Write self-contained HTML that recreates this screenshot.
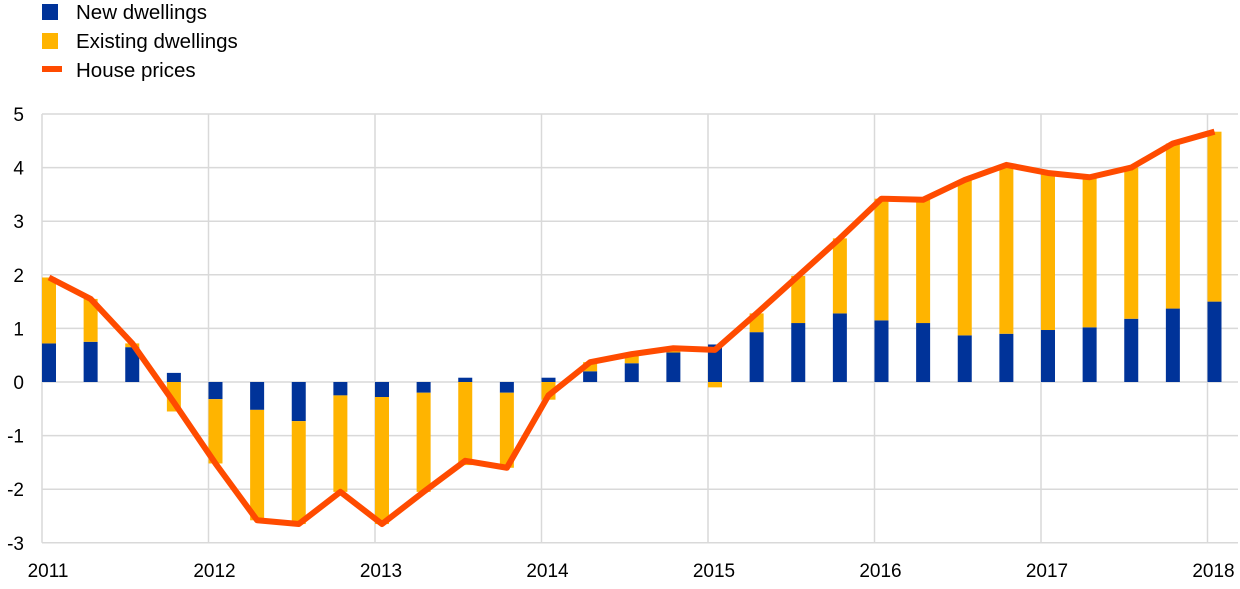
<!DOCTYPE html>
<html><head><meta charset="utf-8"><style>
body{margin:0;background:#fff;}
svg{display:block;font-family:"Liberation Sans",sans-serif;}
</style></head><body>
<svg width="1240" height="589" xmlns="http://www.w3.org/2000/svg">
<g id="grid" stroke="#d9d9d9" stroke-width="1.5"></g>
<g id="bars"></g>
<g id="line"></g>
<g id="labels" font-size="19" fill="#000"></g>
<rect x="42" y="4" width="16" height="16" fill="#003399"/>
<text x="76" y="19" font-size="20.5">New dwellings</text>
<rect x="42" y="33" width="16" height="16" fill="#ffb400"/>
<text x="76" y="48" font-size="20.5">Existing dwellings</text>
<rect x="42" y="66" width="20" height="6" fill="#ff4b00"/>
<text x="76" y="77" font-size="20.5">House prices</text>
<script>
var ns="http://www.w3.org/2000/svg";
function el(p,t,a,txt){var e=document.createElementNS(ns,t);for(var k in a)e.setAttribute(k,a[k]);if(txt!==undefined)e.textContent=txt;document.getElementById(p).appendChild(e);return e;}
var x0=42,yr=166.5,q=yr/4,y0=382,u=53.6;
function Y(v){return y0-v*u;}
for(var v=-3;v<=5;v++){el("grid","line",{x1:x0,x2:1238,y1:Y(v),y2:Y(v)});el("labels","text",{x:24,y:Y(v)+7,"text-anchor":"end"},v);}
for(var i=0;i<=7;i++){var x=x0+i*yr;el("grid","line",{x1:x,x2:x,y1:Y(5),y2:Y(-3)});el("labels","text",{x:x+6,y:577,"text-anchor":"middle"},2011+i);}
var d=[[0.72,1.23],[0.75,0.8],[0.65,0.07],[0.17,-0.55],[-0.32,-1.2],[-0.52,-2.06],[-0.73,-1.92],[-0.25,-1.8],[-0.28,-2.37],[-0.2,-1.85],[0.08,-1.55],[-0.2,-1.4],[0.08,-0.33],[0.2,0.17],[0.35,0.17],[0.55,0.08],[0.7,-0.1],[0.93,0.35],[1.1,0.88],[1.28,1.4],[1.15,2.27],[1.1,2.3],[0.87,2.9],[0.9,3.15],[0.97,2.93],[1.02,2.8],[1.18,2.82],[1.37,3.08],[1.5,3.17]];
var pts=[];
d.forEach(function(r,i){var x=x0+i*q,pos=0,neg=0;
[[r[0],"#003399"],[r[1],"#ffb400"]].forEach(function(s){var v=s[0],top,h;
if(v>=0){top=Y(pos+v);h=v*u;pos+=v;}else{top=Y(neg);h=-v*u;neg+=v;}
el("bars","rect",{x:x,y:top,width:14,height:h,fill:s[1]});});
pts.push((x+7)+","+Y(r[0]+r[1]));});
el("line","polyline",{points:pts.join(" "),fill:"none",stroke:"#ff4b00","stroke-width":6,"stroke-linejoin":"round"});
</script>
</svg>
</body></html>
